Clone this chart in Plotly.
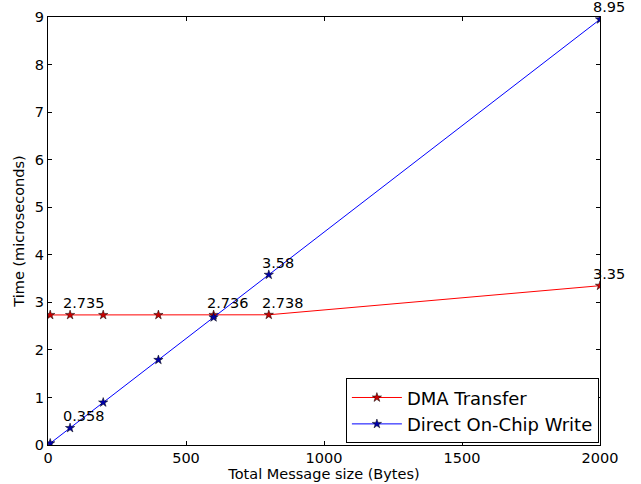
import plotly.graph_objects as go

# Message sizes (bytes) and measured times (microseconds)
sizes = [8, 80, 200, 400, 600, 800, 2000]
dma_time = [2.735, 2.735, 2.735, 2.735, 2.736, 2.738, 3.35]
direct_time = [0.0358, 0.358, 0.895, 1.79, 2.685, 3.58, 8.95]

# Points that carry a value label (indices into sizes)
dma_labels = [1, 4, 5, 6]
direct_labels = [1, 5, 6]

font = "DejaVu Sans, Verdana, sans-serif"

fig = go.Figure()
fig.add_trace(go.Scatter(
    x=sizes, y=dma_time, mode="lines+markers", name="DMA Transfer",
    line=dict(color="#ff0000", width=1),
    marker=dict(symbol="star", size=7, color="#cc0000", line=dict(color="black", width=0.5)),
))
fig.add_trace(go.Scatter(
    x=sizes, y=direct_time, mode="lines+markers", name="Direct On-Chip Write",
    line=dict(color="#0000ff", width=1),
    marker=dict(symbol="star", size=7, color="#0000aa", line=dict(color="black", width=0.5)),
))

def fmt(v):
    return f"{v:g}"

for i in dma_labels:
    fig.add_annotation(x=sizes[i], y=dma_time[i], text=fmt(dma_time[i]),
                       showarrow=False, xanchor="left", yanchor="bottom",
                       xshift=-9, yshift=2, font=dict(size=14.5, color="black", family=font))
for i in direct_labels:
    fig.add_annotation(x=sizes[i], y=direct_time[i], text=fmt(direct_time[i]),
                       showarrow=False, xanchor="left", yanchor="bottom",
                       xshift=-9, yshift=2, font=dict(size=14.5, color="black", family=font))

axis_common = dict(
    showgrid=False, zeroline=False, showline=True, linecolor="black", linewidth=1,
    mirror="ticks", ticks="inside", ticklen=4, tickcolor="black", tickwidth=1,
    tickfont=dict(size=14.5, color="black", family=font), automargin=False,
)

fig.update_layout(
    width=641, height=484,
    margin=dict(l=48, r=41, t=17, b=39),
    paper_bgcolor="white", plot_bgcolor="white",
    font=dict(family=font, color="black"),
    showlegend=True,
    legend=dict(
        x=0.998, y=0.004, xanchor="right", yanchor="bottom",
        bgcolor="white", bordercolor="black", borderwidth=1,
        font=dict(size=18, color="black", family=font),
        itemwidth=50, tracegroupgap=4,
    ),
    xaxis=dict(range=[0, 2000], tickvals=[0, 500, 1000, 1500, 2000],
               title=dict(text="Total Message size (Bytes)", font=dict(size=14.5), standoff=3),
               **axis_common),
    yaxis=dict(range=[0, 9], tickvals=list(range(10)),
               title=dict(text="Time (microseconds)", font=dict(size=14.5), standoff=6),
               **axis_common),
)

fig.write_html("out.html")
